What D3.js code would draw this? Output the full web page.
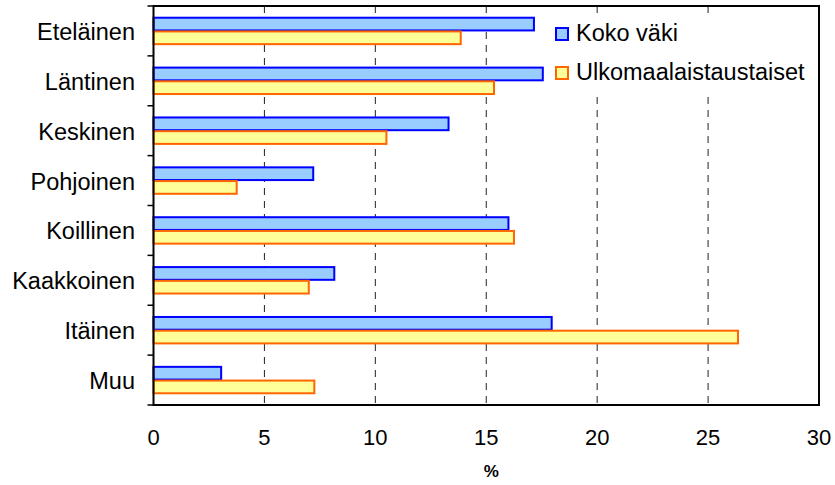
<!DOCTYPE html>
<html><head><meta charset="utf-8">
<script src="https://cdn.jsdelivr.net/npm/d3@7/dist/d3.min.js"></script>
<style>body{margin:0;background:#fff}svg{display:block;font-family:"Liberation Sans",Arial,sans-serif}</style>
</head><body><svg id="c" width="835" height="485"></svg>
<script>
const categories = ["Eteläinen","Läntinen","Keskinen","Pohjoinen","Koillinen","Kaakkoinen","Itäinen","Muu"];
const kokoVaki = [17.15,17.55,13.3,7.2,16.0,8.15,17.95,3.05];
const ulkomaalaiset = [13.85,15.35,10.5,3.75,16.25,7.0,26.35,7.25];
const seriesNames = ["Koko väki","Ulkomaalaistaustaiset"];
const xTicks = [0,5,10,15,20,25,30];
const xLabel = "%";

const svg = d3.select("#c");
const m = {l:153.5, r:819, t:6, b:405};
const x = d3.scaleLinear().domain([0,30]).range([m.l, m.r]);
const y = d3.scaleBand().domain(categories).range([m.t, m.b]).paddingInner(0.45).paddingOuter(0.225);
const sub = d3.scaleBand().domain([0,1]).range([0, y.bandwidth()]);
const colors = [{fill:"#99CCFF", stroke:"#0000FF"},{fill:"#FFFF99", stroke:"#FF6600"}];
const yb = d3.scaleBand().domain(categories).range([m.t, m.b]);

// grid
svg.append("g").selectAll("line").data(xTicks.filter(d=>d>0&&d<30)).join("line")
  .attr("x1",d=>x(d)).attr("x2",d=>x(d)).attr("y1",m.t).attr("y2",m.b)
  .attr("stroke","#222").attr("stroke-width",1).attr("stroke-dasharray","7,6");

// bars
const data = [kokoVaki, ulkomaalaiset];
data.forEach((vals,si)=>{
  svg.append("g").selectAll("rect").data(categories).join("rect")
    .attr("x", x(0)).attr("y", (c)=>y(c)+sub(si)+0.5)
    .attr("width", (c,i)=>x(vals[i])-x(0)).attr("height", sub.bandwidth()-1)
    .attr("fill", colors[si].fill).attr("stroke", colors[si].stroke).attr("stroke-width",2);
});

// legend background
svg.append("rect").attr("x",549).attr("y",14).attr("width",266).attr("height",79).attr("fill","#fff");
seriesNames.forEach((n,i)=>{
  const yy = 28 + i*39;
  svg.append("rect").attr("x",556).attr("y",yy).attr("width",12).attr("height",12)
    .attr("fill",colors[i].fill).attr("stroke",colors[i].stroke).attr("stroke-width",2);
  svg.append("text").attr("x",576).attr("y",yy+13).attr("font-size",23.5).attr("fill","#000").text(n);
});

// frame
svg.append("rect").attr("x",m.l).attr("y",m.t).attr("width",m.r-m.l).attr("height",m.b-m.t)
  .attr("fill","none").attr("stroke","#000").attr("stroke-width",2);

// y axis ticks at category boundaries
const bounds = categories.map(c=>yb(c)).concat([m.b]);
svg.append("g").selectAll("line").data(bounds).join("line")
  .attr("x1",m.l-6).attr("x2",m.l).attr("y1",d=>d).attr("y2",d=>d).attr("stroke","#000").attr("stroke-width",1.5);

// category labels
svg.append("g").selectAll("text").data(categories).join("text")
  .attr("x",135).attr("y",c=>yb(c)+yb.bandwidth()/2+9).attr("text-anchor","end")
  .attr("font-size",23.5).text(c=>c);

// x tick labels
svg.append("g").selectAll("text").data(xTicks).join("text")
  .attr("x",d=>x(d)).attr("y",445).attr("text-anchor","middle").attr("font-size",22).text(d=>d);
svg.append("text").attr("x",x(15)+5).attr("y",477).attr("text-anchor","middle")
  .attr("font-size",17).attr("font-weight","bold").text(xLabel);
</script></body></html>
